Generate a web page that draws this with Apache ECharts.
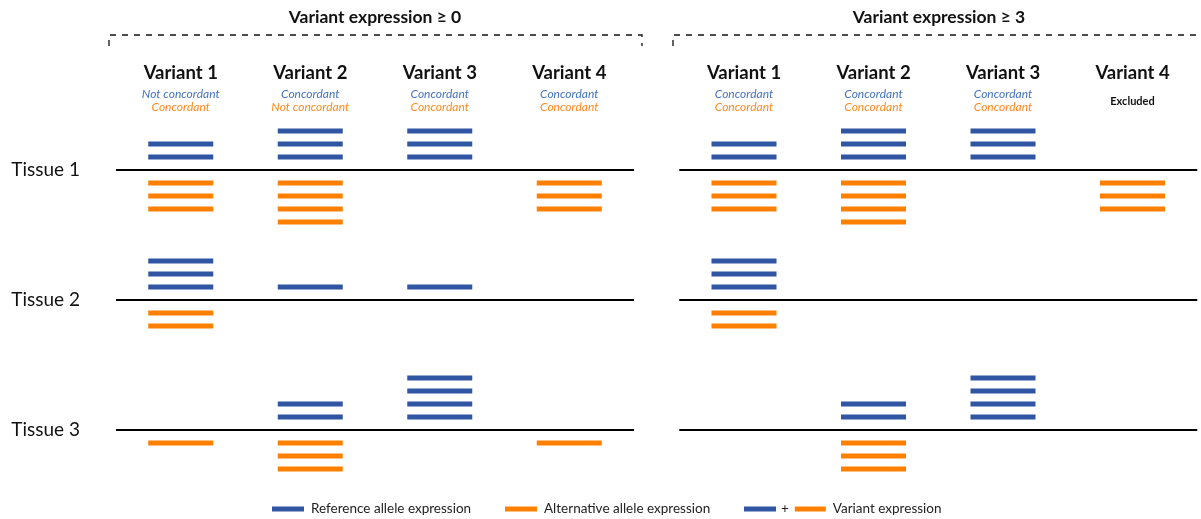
<!DOCTYPE html>
<html>
<head>
<meta charset="utf-8">
<script src="https://cdn.jsdelivr.net/npm/echarts@6/dist/echarts.min.js"></script>
<style>
html,body{margin:0;padding:0;background:#fff;}
#chart{width:1201px;height:519px;}
</style>
</head>
<body>
<div id="chart"></div>
<script>
// ---- data ----
const variants = ['Variant 1', 'Variant 2', 'Variant 3', 'Variant 4'];
const tissues = ['Tissue 1', 'Tissue 2', 'Tissue 3'];
const panelTitles = ['Variant expression \u2265 0', 'Variant expression \u2265 3'];
const refNotes0 = ['Not concordant', 'Concordant', 'Concordant', 'Concordant'];
const altNotes0 = ['Concordant', 'Not concordant', 'Concordant', 'Concordant'];
const refNotes3 = ['Concordant', 'Concordant', 'Concordant', ''];
const altNotes3 = ['Concordant', 'Concordant', 'Concordant', ''];
const excluded3 = ['', '', '', 'Excluded'];
// counts of expression bars: rows = tissues, columns = variants
const ref0 = [[2, 3, 3, 0], [3, 1, 1, 0], [0, 2, 4, 0]];
const alt0 = [[3, 4, 0, 3], [2, 0, 0, 0], [1, 3, 0, 1]];
const ref3 = [[2, 3, 3, 0], [3, 0, 0, 0], [0, 2, 4, 0]];
const alt3 = [[3, 4, 0, 3], [2, 0, 0, 0], [0, 3, 0, 0]];
const legendNames = ['Reference allele expression', 'Alternative allele expression', 'Variant expression'];

// ---- styling ----
const BLUE = '#2F55A3', ORANGE = '#FF8000';
const NOTE_BLUE = '#4472C4', NOTE_ORANGE = '#FF8A1C';
const FONT = 'Lato';
const baselines = tissues.map((t, i) => 20 - 10 * i);

function stackPoints(counts, sign) {
  const pts = [];
  counts.forEach((row, t) => {
    row.forEach((n, v) => {
      for (let k = 1; k <= n; k++) pts.push([v, baselines[t] + sign * k]);
    });
  });
  return pts;
}

function xLabelFormatter(refNotes, altNotes, excl) {
  return function (val, idx) {
    let s = '{v|' + val + '}';
    if (refNotes[idx]) s += '\n{r|' + refNotes[idx] + '}\n{a|' + altNotes[idx] + '}';
    else s += '\n{e|' + (excl[idx] || '') + '}';
    return s;
  };
}
const xRich = {
  v: { fontFamily: FONT, fontSize: 18.5, fontWeight: 'bold', color: '#111', lineHeight: 29 },
  r: { fontFamily: FONT, fontSize: 12, fontStyle: 'italic', color: NOTE_BLUE, lineHeight: 13 },
  a: { fontFamily: FONT, fontSize: 12, fontStyle: 'italic', color: NOTE_ORANGE, lineHeight: 13 },
  e: { fontFamily: FONT, fontSize: 11, fontWeight: 'bold', color: '#111', lineHeight: 26 }
};

const grids = [
  { left: 116, top: 118, width: 518, height: 377 },
  { left: 679.25, top: 118, width: 518, height: 377 }
];
const notes = [[refNotes0, altNotes0, ['', '', '', '']], [refNotes3, altNotes3, excluded3]];

const xAxes = grids.map((g, i) => ({
  type: 'category', gridIndex: i, position: 'top', data: variants, boundaryGap: true,
  axisLine: { show: false }, axisTick: { show: false }, splitLine: { show: false },
  axisLabel: { margin: 4, interval: 0, formatter: xLabelFormatter(notes[i][0], notes[i][1], notes[i][2]), rich: xRich }
}));
const yAxes = grids.map((g, i) => ({
  type: 'value', gridIndex: i, min: -5, max: 24, interval: 5,
  axisLine: { show: false }, axisTick: { show: false }, splitLine: { show: false },
  axisLabel: {
    show: i === 0, margin: 36, fontFamily: FONT, fontSize: 19, color: '#111',
    formatter: v => (v >= 0 && v % 10 === 0) ? tissues[(20 - v) / 10] : ''
  }
}));

const refData = [ref0, ref3], altData = [alt0, alt3];
const series = [];
grids.forEach((g, i) => {
  series.push({
    name: legendNames[0], type: 'scatter', xAxisIndex: i, yAxisIndex: i,
    symbol: 'rect', symbolSize: [65, 5], itemStyle: { color: BLUE, opacity: 1 },
    data: stackPoints(refData[i], 1), silent: true,
    markLine: {
      silent: true, symbol: 'none', label: { show: false },
      lineStyle: { color: '#000', width: 2, type: 'solid' },
      data: baselines.map(b => ({ yAxis: b }))
    }
  });
  series.push({
    name: legendNames[1], type: 'scatter', xAxisIndex: i, yAxisIndex: i,
    symbol: 'rect', symbolSize: [65, 5], itemStyle: { color: ORANGE, opacity: 1 },
    data: stackPoints(altData[i], -1), silent: true
  });
});
series.push({ name: legendNames[2], type: 'scatter', xAxisIndex: 0, yAxisIndex: 0, itemStyle: { color: BLUE, opacity: 1 }, data: [] });

const legendBase = {
  orient: 'horizontal', top: 502, padding: 0, icon: 'rect', itemWidth: 32, itemHeight: 5,
  itemGap: 8, selectedMode: false,
  itemStyle: { opacity: 1 },
  textStyle: { fontFamily: FONT, fontSize: 13.5, color: '#222', padding: [0, 0, 0, 2] }
};
const legends = [
  Object.assign({}, legendBase, { left: 272, data: [legendNames[0]] }),
  Object.assign({}, legendBase, { left: 505, data: [legendNames[1]] }),
  Object.assign({}, legendBase, {
    left: 744, data: [legendNames[2]],
    formatter: n => '{p|+}{o| }{t|' + n + '}',
    textStyle: {
      fontFamily: FONT, fontSize: 13.5, color: '#222',
      rich: {
        p: { fontFamily: FONT, fontSize: 13.5, color: '#222', padding: [0, 6, 0, 0] },
        o: { width: 31, height: 5, backgroundColor: ORANGE },
        t: { fontFamily: FONT, fontSize: 13.5, color: '#222', padding: [0, 0, 0, 7] }
      }
    }
  })
];

const titleCenters = [375, 939];
const brackets = [
  [[109, 46], [109, 35], [642, 35], [642, 46]],
  [[673, 46], [673, 35], [1210, 35]]
];
const graphic = [];
panelTitles.forEach((t, i) => {
  graphic.push({
    type: 'text', x: titleCenters[i], y: 17,
    style: { text: t, fontFamily: FONT, fontSize: 17.5, fontWeight: 'bold', fill: '#111', align: 'center', verticalAlign: 'middle' }
  });
  graphic.push({
    type: 'polyline', shape: { points: brackets[i] },
    style: { stroke: '#111', lineWidth: 1.3, lineDash: [6, 6], fill: null }
  });
});

const chart = echarts.init(document.getElementById('chart'), null, { renderer: 'canvas' });
chart.setOption({
  animation: false,
  backgroundColor: '#fff',
  grid: grids,
  xAxis: xAxes,
  yAxis: yAxes,
  legend: legends,
  graphic: graphic,
  series: series
});
</script>
</body>
</html>
